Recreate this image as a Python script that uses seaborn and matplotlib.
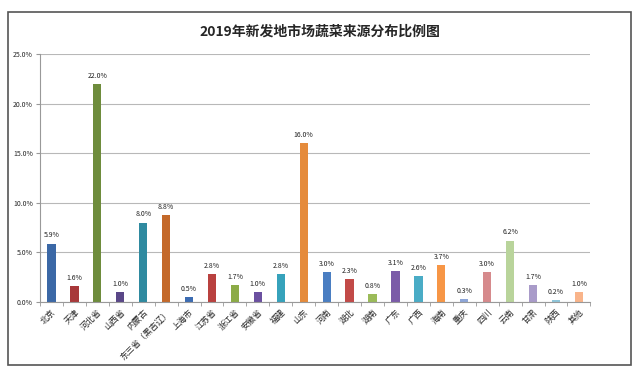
import pandas as pd
import seaborn as sns
import matplotlib.pyplot as plt
from matplotlib.patches import Rectangle
from matplotlib.ticker import FuncFormatter, FixedLocator

# 数据
地区 = ['北京', '天津', '河北省', '山西省', '内蒙古', '东三省（黑吉辽）', '上海市', '江苏省',
      '浙江省', '安徽省', '福建', '山东', '河南', '湖北', '湖南', '广东', '广西', '海南',
      '重庆', '四川', '云南', '甘肃', '陕西', '其他']
比例 = [5.9, 1.6, 22.0, 1.0, 8.0, 8.8, 0.5, 2.8, 1.7, 1.0, 2.8, 16.0, 3.0, 2.3, 0.8,
      3.1, 2.6, 3.7, 0.3, 3.0, 6.2, 1.7, 0.2, 1.0]
颜色 = ['#3b68a6', '#a8383a', '#6e8c3c', '#5a4788', '#2f8aa0', '#c4692a', '#3c6cb2',
      '#b9413f', '#8cab46', '#6b50a0', '#36a2bb', '#e58b3c', '#4a7ec2', '#c24a48',
      '#9bbb59', '#7b5ba8', '#4aacc6', '#f79646', '#8ea6d8', '#d68a8c', '#b9d49b',
      '#a99bc9', '#8fc6da', '#f9b48a']

dados = pd.DataFrame({'地区': 地区, '比例': [v / 100 for v in 比例]})

sns.set_style('white')
plt.rcParams['font.family'] = ['Noto Sans CJK SC', 'DejaVu Sans']

fig = plt.figure(figsize=(6.4, 3.72), dpi=100)
ax = fig.add_axes([0.0625, 0.188, 0.86, 0.667])

sns.barplot(data=dados, x='地区', y='比例', hue='地区', palette=颜色, legend=False,
            width=0.36, saturation=1, dodge=False, linewidth=0, ax=ax)

# 数值标签
for p, v in zip(ax.patches, 比例):
    ax.annotate(f'{v:.1f}%', (p.get_x() + p.get_width() / 2., p.get_height()),
                xytext=(0, 3), textcoords='offset points',
                ha='center', va='bottom', fontsize=5, color='#222222')

ax.set_ylim(0, 0.25)
ax.set_xlim(-0.5, len(地区) - 0.5)
ax.yaxis.set_major_locator(FixedLocator([0, 0.05, 0.10, 0.15, 0.20, 0.25]))
ax.yaxis.set_major_formatter(FuncFormatter(lambda y, _: f'{y * 100:.1f}%'))
ax.grid(axis='y', color='#b8b8b8', linewidth=0.8)
ax.set_axisbelow(True)

for s in ['top', 'right']:
    ax.spines[s].set_visible(False)
ax.spines['left'].set_color('#999999')
ax.spines['bottom'].set_color('#999999')
ax.spines['left'].set_linewidth(0.8)
ax.spines['bottom'].set_linewidth(0.8)

ax.tick_params(axis='y', labelsize=5, length=3, color='#999999', pad=2, left=True)
ax.tick_params(axis='x', labelsize=6, length=0, pad=4)
ax.set_xticks(range(len(地区)))
ax.set_xticklabels(地区, rotation=45, ha='right', rotation_mode='anchor')
ax.set_xticks([i + 0.5 for i in range(-1, len(地区))], minor=True)
ax.tick_params(axis='x', which='minor', length=3, color='#999999', bottom=True)
ax.set_xlabel('')
ax.set_ylabel('')

fig.text(0.5, 0.915, '2019年新发地市场蔬菜来源分布比例图', ha='center', va='center',
         fontsize=10, fontweight='bold')

# 外框
fig.patches.append(Rectangle((0.013, 0.02), 0.973, 0.947, transform=fig.transFigure,
                             fill=False, edgecolor='#555555', linewidth=1.2))

fig.savefig('out.png', dpi=100)
